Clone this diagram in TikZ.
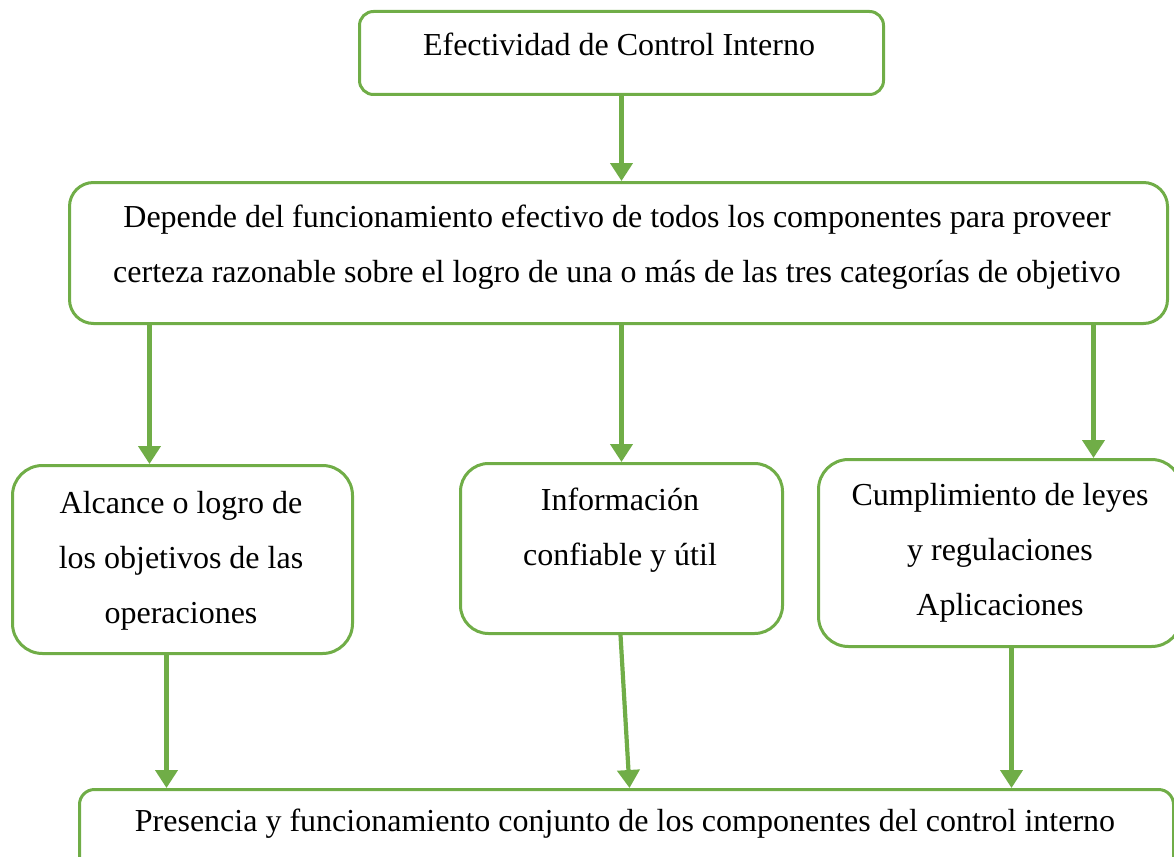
\documentclass[tikz,border=0pt]{standalone}
\usepackage{fontspec}
\setmainfont{Liberation Serif}
\usetikzlibrary{arrows.meta}
\definecolor{grn}{HTML}{70AD47}
\begin{document}
\begin{tikzpicture}[x=1pt,y=-1pt,
  box/.style={draw=grn,line width=3pt,inner sep=0pt,anchor=north west},
  txt/.style={anchor=north,inner sep=0pt,align=center,font=\fontsize{32}{55}\selectfont},
  conn/.style={draw=grn,line width=4.2pt,-{Triangle[width=22pt,length=18pt]}}]
\useasboundingbox (0,0) rectangle (1174,856);
\clip (0,0) rectangle (1174,856);
% boxes
\node[box,rounded corners=14pt,minimum width=524pt,minimum height=83pt] (top) at (358,10) {};
\node[box,rounded corners=24pt,minimum width=1098pt,minimum height=141pt] (mid) at (68,181) {};
\node[box,rounded corners=30pt,minimum width=340pt,minimum height=188pt] (bl) at (11,464) {};
\node[box,rounded corners=28pt,minimum width=322pt,minimum height=170pt] (bm) at (459,462) {};
\node[box,rounded corners=30pt,minimum width=363pt,minimum height=187pt] (br) at (817,458) {};
\node[box,rounded corners=15pt,minimum width=1094pt,minimum height=100pt] (bot) at (78,788) {};
% texts
\node[txt] (ttop) at (619,16.5) {\strut Efectividad de Control Interno};
\node[txt] (tmid) at (617,188.5) {\strut Depende del funcionamiento efectivo de todos los componentes para proveer\\\strut certeza razonable sobre el logro de una o más de las tres categorías de objetivo};
\node[txt] (tbl) at (181,474.5) {\strut Alcance o logro de\\\strut los objetivos de las\\\strut operaciones};
\node[txt] (tbm) at (620,471.5) {\strut Información\\\strut confiable y útil};
\node[txt] (tbr) at (1000,466.5) {\strut Cumplimiento de leyes\\\strut y regulaciones\\\strut Aplicaciones};
\node[txt] (tbot) at (625,792.5) {\strut Presencia y funcionamiento conjunto de los componentes del control interno};
% connectors
\draw[conn] (top.south) -- (top.south |- mid.north);
\draw[conn] ([xshift=-33pt]bl.north |- mid.south) -- ([xshift=-33pt]bl.north);
\draw[conn] (bm.north |- mid.south) -- (bm.north);
\draw[conn] ([xshift=93.5pt]br.north |- mid.south) -- ([xshift=93.5pt]br.north);
\draw[conn] ([xshift=-16pt]bl.south) -- ([xshift=-16pt]bl.south |- bot.north);
\draw[conn] ([xshift=-1pt]bm.south) -- ([xshift=3pt]bot.north);
\draw[conn] ([xshift=11.5pt]br.south) -- ([xshift=11.5pt]br.south |- bot.north);
\end{tikzpicture}
\end{document}
